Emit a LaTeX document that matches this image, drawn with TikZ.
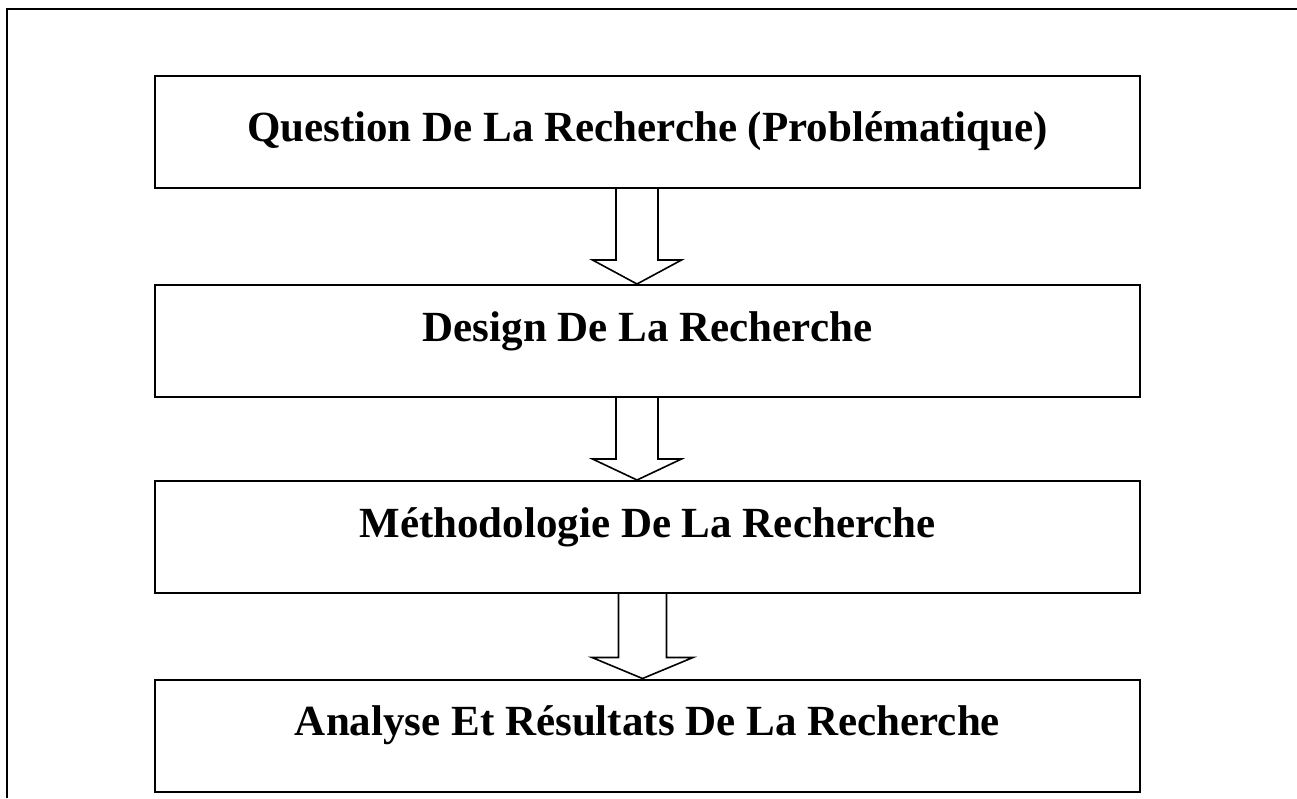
\documentclass[tikz,border=0pt]{standalone}
\usepackage{fontspec}
\setmainfont{Liberation Serif}
\usetikzlibrary{calc}
\tikzset{
  stagebox/.style={draw=black, line width=2pt, rectangle, minimum width=985pt, minimum height=112pt, inner sep=0pt},
  stagetext/.style={anchor=base, inner sep=0pt, font=\fontsize{43}{50}\selectfont\bfseries},
  flowarrow/.style={draw=black, line width=1.6pt, fill=white, line join=miter},
  frameline/.style={draw=black, line width=2.6pt}
}
\begin{document}
\begin{tikzpicture}[x=1pt,y=-1pt]
\useasboundingbox (0,0) rectangle (1297,798);
% outer frame (top and left edges only)
\coordinate (fr) at (1297,9);
\coordinate (fc) at (7,9);
\coordinate (fb) at (7,798);
\draw[frameline] (fr) -- (fc) -- (fb);
% boxes
\node[stagebox] (b1) at (647.5,132) {};
\node[stagebox] (b2) at (647.5,341) {};
\node[stagebox] (b3) at (647.5,537) {};
\node[stagebox] (b4) at (647.5,735.5) {};
% texts
\node[stagetext] (t1) at ($(b1.north)+(0,66)$) {Question De La Recherche (Problématique)};
\node[stagetext] (t2) at ($(b2.north)+(0,57)$) {Design De La Recherche};
\node[stagetext] (t3) at ($(b3.north)+(0,57)$) {Méthodologie De La Recherche};
\node[stagetext] (t4) at ($(b4.north)+(0,57)$) {Analyse Et Résultats De La Recherche};
% arrows
\coordinate (a1) at ($(b1.south)+(-10.5,0)$);
\coordinate (p1) at ($(b2.north)+(-10.5,0)$);
\draw[flowarrow] ($(a1)+(-21,0)$) -- ($(p1)+(-21,-24)$) -- ($(p1)+(-44.5,-24)$) -- (p1) -- ($(p1)+(44.5,-24)$) -- ($(p1)+(21,-24)$) -- ($(a1)+(21,0)$);
\coordinate (a2) at ($(b2.south)+(-10.5,0)$);
\coordinate (p2) at ($(b3.north)+(-10.5,0)$);
\draw[flowarrow] ($(a2)+(-21,0)$) -- ($(p2)+(-21,-21)$) -- ($(p2)+(-44.5,-21)$) -- (p2) -- ($(p2)+(44.5,-21)$) -- ($(p2)+(21,-21)$) -- ($(a2)+(21,0)$);
\coordinate (a3) at ($(b3.south)+(-5,0)$);
\coordinate (p3) at ($(b4.north)+(-5,0)$);
\draw[flowarrow] ($(a3)+(-24,0)$) -- ($(p3)+(-24,-21)$) -- ($(p3)+(-50.5,-21)$) -- (p3) -- ($(p3)+(50.5,-21)$) -- ($(p3)+(24,-21)$) -- ($(a3)+(24,0)$);
\end{tikzpicture}
\end{document}
